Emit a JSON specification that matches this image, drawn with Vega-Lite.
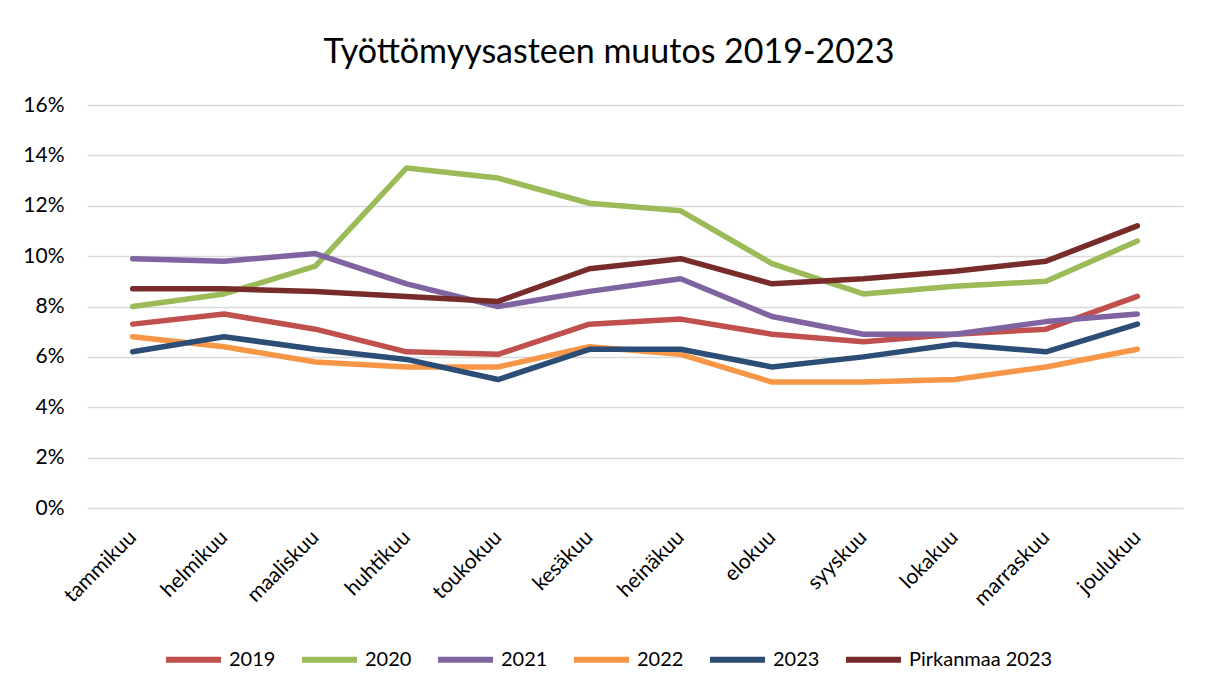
{
  "$schema": "https://vega.github.io/schema/vega-lite/v6.json",
  "autosize": {"type": "none"},
  "padding": {"left": 87, "top": 105, "right": 25, "bottom": 187},
  "width": 1096,
  "height": 403,
  "background": "white",
  "title": {
    "text": "Työttömyysasteen muutos 2019-2023",
    "font": "Lato",
    "fontSize": 34,
    "fontWeight": "normal",
    "color": "#000000",
    "anchor": "middle",
    "dx": -26,
    "offset": 24
  },
  "data": {
    "values": [
      {"kuukausi": "tammikuu", "sarja": "2019", "arvo": 0.073},
      {"kuukausi": "helmikuu", "sarja": "2019", "arvo": 0.077},
      {"kuukausi": "maaliskuu", "sarja": "2019", "arvo": 0.071},
      {"kuukausi": "huhtikuu", "sarja": "2019", "arvo": 0.062},
      {"kuukausi": "toukokuu", "sarja": "2019", "arvo": 0.061},
      {"kuukausi": "kesäkuu", "sarja": "2019", "arvo": 0.073},
      {"kuukausi": "heinäkuu", "sarja": "2019", "arvo": 0.075},
      {"kuukausi": "elokuu", "sarja": "2019", "arvo": 0.069},
      {"kuukausi": "syyskuu", "sarja": "2019", "arvo": 0.066},
      {"kuukausi": "lokakuu", "sarja": "2019", "arvo": 0.069},
      {"kuukausi": "marraskuu", "sarja": "2019", "arvo": 0.071},
      {"kuukausi": "joulukuu", "sarja": "2019", "arvo": 0.084},
      {"kuukausi": "tammikuu", "sarja": "2020", "arvo": 0.080},
      {"kuukausi": "helmikuu", "sarja": "2020", "arvo": 0.085},
      {"kuukausi": "maaliskuu", "sarja": "2020", "arvo": 0.096},
      {"kuukausi": "huhtikuu", "sarja": "2020", "arvo": 0.135},
      {"kuukausi": "toukokuu", "sarja": "2020", "arvo": 0.131},
      {"kuukausi": "kesäkuu", "sarja": "2020", "arvo": 0.121},
      {"kuukausi": "heinäkuu", "sarja": "2020", "arvo": 0.118},
      {"kuukausi": "elokuu", "sarja": "2020", "arvo": 0.097},
      {"kuukausi": "syyskuu", "sarja": "2020", "arvo": 0.085},
      {"kuukausi": "lokakuu", "sarja": "2020", "arvo": 0.088},
      {"kuukausi": "marraskuu", "sarja": "2020", "arvo": 0.090},
      {"kuukausi": "joulukuu", "sarja": "2020", "arvo": 0.106},
      {"kuukausi": "tammikuu", "sarja": "2021", "arvo": 0.099},
      {"kuukausi": "helmikuu", "sarja": "2021", "arvo": 0.098},
      {"kuukausi": "maaliskuu", "sarja": "2021", "arvo": 0.101},
      {"kuukausi": "huhtikuu", "sarja": "2021", "arvo": 0.089},
      {"kuukausi": "toukokuu", "sarja": "2021", "arvo": 0.080},
      {"kuukausi": "kesäkuu", "sarja": "2021", "arvo": 0.086},
      {"kuukausi": "heinäkuu", "sarja": "2021", "arvo": 0.091},
      {"kuukausi": "elokuu", "sarja": "2021", "arvo": 0.076},
      {"kuukausi": "syyskuu", "sarja": "2021", "arvo": 0.069},
      {"kuukausi": "lokakuu", "sarja": "2021", "arvo": 0.069},
      {"kuukausi": "marraskuu", "sarja": "2021", "arvo": 0.074},
      {"kuukausi": "joulukuu", "sarja": "2021", "arvo": 0.077},
      {"kuukausi": "tammikuu", "sarja": "2022", "arvo": 0.068},
      {"kuukausi": "helmikuu", "sarja": "2022", "arvo": 0.064},
      {"kuukausi": "maaliskuu", "sarja": "2022", "arvo": 0.058},
      {"kuukausi": "huhtikuu", "sarja": "2022", "arvo": 0.056},
      {"kuukausi": "toukokuu", "sarja": "2022", "arvo": 0.056},
      {"kuukausi": "kesäkuu", "sarja": "2022", "arvo": 0.064},
      {"kuukausi": "heinäkuu", "sarja": "2022", "arvo": 0.061},
      {"kuukausi": "elokuu", "sarja": "2022", "arvo": 0.050},
      {"kuukausi": "syyskuu", "sarja": "2022", "arvo": 0.050},
      {"kuukausi": "lokakuu", "sarja": "2022", "arvo": 0.051},
      {"kuukausi": "marraskuu", "sarja": "2022", "arvo": 0.056},
      {"kuukausi": "joulukuu", "sarja": "2022", "arvo": 0.063},
      {"kuukausi": "tammikuu", "sarja": "2023", "arvo": 0.062},
      {"kuukausi": "helmikuu", "sarja": "2023", "arvo": 0.068},
      {"kuukausi": "maaliskuu", "sarja": "2023", "arvo": 0.063},
      {"kuukausi": "huhtikuu", "sarja": "2023", "arvo": 0.059},
      {"kuukausi": "toukokuu", "sarja": "2023", "arvo": 0.051},
      {"kuukausi": "kesäkuu", "sarja": "2023", "arvo": 0.063},
      {"kuukausi": "heinäkuu", "sarja": "2023", "arvo": 0.063},
      {"kuukausi": "elokuu", "sarja": "2023", "arvo": 0.056},
      {"kuukausi": "syyskuu", "sarja": "2023", "arvo": 0.060},
      {"kuukausi": "lokakuu", "sarja": "2023", "arvo": 0.065},
      {"kuukausi": "marraskuu", "sarja": "2023", "arvo": 0.062},
      {"kuukausi": "joulukuu", "sarja": "2023", "arvo": 0.073},
      {"kuukausi": "tammikuu", "sarja": "Pirkanmaa 2023", "arvo": 0.087},
      {"kuukausi": "helmikuu", "sarja": "Pirkanmaa 2023", "arvo": 0.087},
      {"kuukausi": "maaliskuu", "sarja": "Pirkanmaa 2023", "arvo": 0.086},
      {"kuukausi": "huhtikuu", "sarja": "Pirkanmaa 2023", "arvo": 0.084},
      {"kuukausi": "toukokuu", "sarja": "Pirkanmaa 2023", "arvo": 0.082},
      {"kuukausi": "kesäkuu", "sarja": "Pirkanmaa 2023", "arvo": 0.095},
      {"kuukausi": "heinäkuu", "sarja": "Pirkanmaa 2023", "arvo": 0.099},
      {"kuukausi": "elokuu", "sarja": "Pirkanmaa 2023", "arvo": 0.089},
      {"kuukausi": "syyskuu", "sarja": "Pirkanmaa 2023", "arvo": 0.091},
      {"kuukausi": "lokakuu", "sarja": "Pirkanmaa 2023", "arvo": 0.094},
      {"kuukausi": "marraskuu", "sarja": "Pirkanmaa 2023", "arvo": 0.098},
      {"kuukausi": "joulukuu", "sarja": "Pirkanmaa 2023", "arvo": 0.112}
    ]
  },
  "mark": {"type": "line", "strokeWidth": 5.5, "strokeCap": "round", "strokeJoin": "round"},
  "encoding": {
    "x": {
      "field": "kuukausi",
      "type": "ordinal",
      "sort": ["tammikuu", "helmikuu", "maaliskuu", "huhtikuu", "toukokuu", "kesäkuu", "heinäkuu", "elokuu", "syyskuu", "lokakuu", "marraskuu", "joulukuu"],
      "scale": {"type": "point", "padding": 0.5},
      "axis": {
        "title": null,
        "labelAngle": -45,
        "labelAlign": "right",
        "labelBaseline": "middle",
        "labelPadding": 26,
        "labelFont": "Lato",
        "labelFontSize": 21,
        "labelColor": "#000000",
        "ticks": false,
        "domain": false,
        "grid": false
      }
    },
    "y": {
      "field": "arvo",
      "type": "quantitative",
      "scale": {"domain": [0, 0.16], "nice": false},
      "axis": {
        "title": null,
        "format": ".0%",
        "values": [0, 0.02, 0.04, 0.06, 0.08, 0.1, 0.12, 0.14, 0.16],
        "labelFont": "Lato",
        "labelFontSize": 21,
        "labelColor": "#000000",
        "labelPadding": 23,
        "ticks": false,
        "domain": false,
        "grid": true,
        "gridColor": "#D9D9D9",
        "gridWidth": 1.5
      }
    },
    "color": {
      "field": "sarja",
      "type": "nominal",
      "scale": {
        "domain": ["2019", "2020", "2021", "2022", "2023", "Pirkanmaa 2023"],
        "range": ["#C0504D", "#9BBB59", "#8064A2", "#F79646", "#2C4D75", "#772C2A"]
      },
      "legend": {
        "title": null,
        "orient": "none",
        "direction": "horizontal",
        "legendX": 76,
        "legendY": 524,
        "symbolType": "stroke",
        "symbolSize": 3025,
        "symbolStrokeWidth": 6,
        "labelFont": "Lato",
        "labelFontSize": 20,
        "labelColor": "#000000",
        "labelOffset": 5,
        "columnPadding": 14
      }
    }
  },
  "config": {
    "view": {"stroke": null}
  }
}
